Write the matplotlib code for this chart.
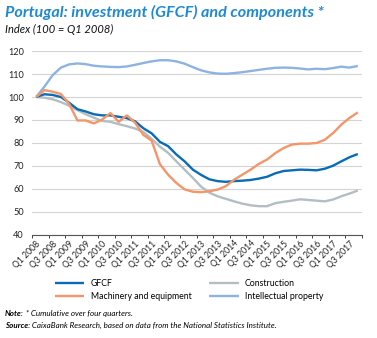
import numpy as np
import matplotlib
matplotlib.use("Agg")
import matplotlib.pyplot as plt
from matplotlib.ticker import FixedLocator

plt.rcParams['font.family'] = ['Lato', 'DejaVu Sans']

# Quarterly index values, Q1 2008 .. Q4 2017 (100 = Q1 2008)
quarters = [f"Q{q} {y}" for y in range(2008, 2018) for q in (1, 2, 3, 4)]

gfcf = [100, 101.2, 100.9, 100, 97.5, 94.7, 93.7, 92.5, 92, 92,
        91.4, 90.8, 89.4, 86.4, 84.2, 80.5, 78.6, 75, 72, 68.4,
        66.1, 64.2, 63.4, 63.1, 63.4, 63.6, 63.9, 64.5, 65.3, 66.8,
        67.8, 68.1, 68.4, 68.3, 68.1, 68.8, 70.1, 72, 73.8, 75.2]

construction = [100, 99.7, 99, 97.8, 96.2, 94.3, 92.5, 91, 89.6, 89.2,
                88.2, 87.3, 86.3, 84.8, 81.8, 78.4, 75.7, 72, 68.4, 64.8,
                61, 58.4, 56.8, 55.7, 54.6, 53.6, 52.9, 52.5, 52.5, 53.8,
                54.4, 54.9, 55.5, 55.2, 54.9, 54.6, 55.4, 56.8, 58, 59.3]

machinery = [100, 103, 102.3, 101.3, 97, 89.8, 89.8, 88.5, 90.2, 93,
             89.2, 92, 88.8, 83.5, 81, 70.8, 66.2, 62.6, 59.8, 58.8,
             58.6, 59, 59.7, 61.2, 64, 66.2, 68.4, 70.9, 72.8, 75.6,
             77.8, 79.3, 79.7, 79.7, 80, 81.4, 84.3, 88, 90.9, 93.3]

intellectual = [100, 104.5, 109.5, 112.8, 114.2, 114.6, 114.3, 113.6, 113.3, 113.1,
                113, 113.3, 114, 114.8, 115.5, 116, 116, 115.5, 114.5, 113,
                111.6, 110.7, 110.2, 110.1, 110.4, 110.8, 111.3, 111.8, 112.3, 112.7,
                112.8, 112.7, 112.4, 112, 112.3, 112.1, 112.6, 113.2, 112.8, 113.5]

C_GFCF = "#0a6cb5"
C_CONS = "#b3bec3"
C_MACH = "#f59568"
C_IP = "#8db3e2"

fig = plt.figure(figsize=(3.77, 3.38), dpi=100)
ax = fig.add_axes([0.085, 0.305, 0.875, 0.544])

x = np.arange(len(quarters))
lw = 1.7
l_ip, = ax.plot(x, intellectual, color=C_IP, lw=lw, label="Intellectual property", solid_capstyle="butt")
l_cons, = ax.plot(x, construction, color=C_CONS, lw=lw, label="Construction", solid_capstyle="butt")
l_gfcf, = ax.plot(x, gfcf, color=C_GFCF, lw=lw, label="GFCF", solid_capstyle="butt")
l_mach, = ax.plot(x, machinery, color=C_MACH, lw=lw, label="Machinery and equipment", solid_capstyle="butt")

ax.set_xlim(-0.5, len(quarters) - 0.5)
ax.set_ylim(40, 120)
ax.set_yticks(range(40, 121, 10))
ax.yaxis.grid(True, color="#d4d4d4", lw=0.8)
ax.set_axisbelow(True)
ax.tick_params(axis="y", length=0, labelsize=6.6, pad=6, colors="#222222")

# labels every second quarter, tick marks on the category boundaries
ax.set_xticks(x[::2])
ax.set_xticklabels(quarters[::2], rotation=45, ha="right", rotation_mode="anchor",
                   fontsize=6.2, color="#222222")
ax.tick_params(axis="x", which="major", length=0, pad=3)
ax.xaxis.set_minor_locator(FixedLocator(np.arange(-0.5, len(quarters), 2)))
ax.tick_params(axis="x", which="minor", length=2.5, width=0.7, color="#444444", direction="out")

for s in ("top", "right", "left"):
    ax.spines[s].set_visible(False)
ax.spines["bottom"].set_color("#555555")
ax.spines["bottom"].set_linewidth(0.8)

fig.text(0.013, 0.962, "Portugal: investment (GFCF) and components *", fontsize=11.6,
         fontweight="bold", fontstyle="italic", color="#1e8ad2", va="center")
fig.text(0.013, 0.912, "Index (100 = Q1 2008)", fontsize=8, fontstyle="italic",
         color="#111111", va="center")

fig.legend(handles=[l_gfcf, l_mach, l_cons, l_ip], ncol=2, frameon=False,
           loc="center", bbox_to_anchor=(0.501, 0.142), fontsize=6.3,
           handlelength=3.4, columnspacing=2.0, labelspacing=0.45, handletextpad=0.7)

# footnotes: bold lead word followed by italic text
renderer = fig.canvas.get_renderer()
for yy, lead, rest in [(0.073, "Note:", " * Cumulative over four quarters."),
                       (0.037, "Source:", " CaixaBank Research, based on data from the National Statistics Institute.")]:
    t = fig.text(0.013, yy, lead, fontsize=5.8, fontweight="bold", fontstyle="italic", va="center")
    bb = t.get_window_extent(renderer=renderer)
    fig.text(bb.x1 / fig.bbox.width, yy, rest, fontsize=5.8, fontstyle="italic", va="center")

fig.savefig("out.png", dpi=100)
